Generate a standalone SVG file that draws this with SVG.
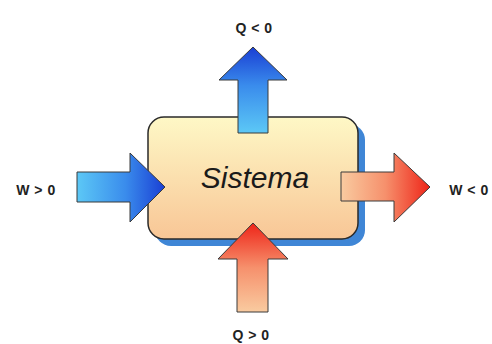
<svg xmlns="http://www.w3.org/2000/svg" width="492" height="344" viewBox="0 0 492 344">
<defs>
<linearGradient id="boxg" x1="0" y1="0" x2="0" y2="1">
<stop offset="0" stop-color="#fef8c6"/>
<stop offset="1" stop-color="#f8c696"/>
</linearGradient>
<linearGradient id="blueUp" x1="0" y1="1" x2="0" y2="0">
<stop offset="0" stop-color="#5cc8f6"/>
<stop offset="0.55" stop-color="#3a8cec"/>
<stop offset="1" stop-color="#1a3fd4"/>
</linearGradient>
<linearGradient id="blueRight" x1="0" y1="0" x2="1" y2="0">
<stop offset="0" stop-color="#5cc8f6"/>
<stop offset="0.55" stop-color="#3a8cec"/>
<stop offset="1" stop-color="#1a3fd4"/>
</linearGradient>
<linearGradient id="redRight" x1="0" y1="0" x2="1" y2="0">
<stop offset="0" stop-color="#f9cba0"/>
<stop offset="0.5" stop-color="#f6906c"/>
<stop offset="1" stop-color="#ee2418"/>
</linearGradient>
<linearGradient id="redUp" x1="0" y1="1" x2="0" y2="0">
<stop offset="0" stop-color="#f9cba0"/>
<stop offset="0.5" stop-color="#f6906c"/>
<stop offset="1" stop-color="#ee2418"/>
</linearGradient>
</defs>
<style>
.lbl{font-family:"Liberation Sans",Arial,sans-serif;font-weight:bold;font-size:14px;fill:#222;text-anchor:middle;letter-spacing:0.5px}
.arr{stroke:#3a3a3a;stroke-width:1;stroke-linejoin:round}
.title{font-family:"Liberation Sans",Arial,sans-serif;font-style:italic;font-size:30px;fill:#1a1a1a;text-anchor:middle}
</style>
<rect width="492" height="344" fill="#ffffff"/>
<g id="sistema">
<rect x="155" y="124" width="210" height="122" rx="16" fill="#3f86d6"/>
<rect x="148" y="117" width="210" height="122" rx="16" fill="url(#boxg)" stroke="#2a2a2a" stroke-width="1.5"/>
<text class="title" x="255" y="188">Sistema</text>
</g>
<g id="connectors">
<polygon id="q-out" class="arr" fill="url(#blueUp)" points="238,133 238,80 219,80 253,47 287,80 268,80 268,133"/>
<polygon id="w-in" class="arr" fill="url(#blueRight)" points="77,172 130,172 130,153 165,187 130,222 130,202 77,202"/>
<polygon id="w-out" class="arr" fill="url(#redRight)" points="341,172 394,172 394,153 430,187 394,222 394,201 341,201"/>
<polygon id="q-in" class="arr" fill="url(#redUp)" points="237,312 237,259 218,259 253,223 288,259 268,259 268,312"/>
</g>
<g id="label-q-out"><text class="lbl" x="254" y="33">Q &lt; 0</text></g>
<g id="label-w-in"><text class="lbl" x="36" y="195">W &gt; 0</text></g>
<g id="label-w-out"><text class="lbl" x="469" y="195">W &lt; 0</text></g>
<g id="label-q-in"><text class="lbl" x="251" y="340">Q &gt; 0</text></g>
</svg>
